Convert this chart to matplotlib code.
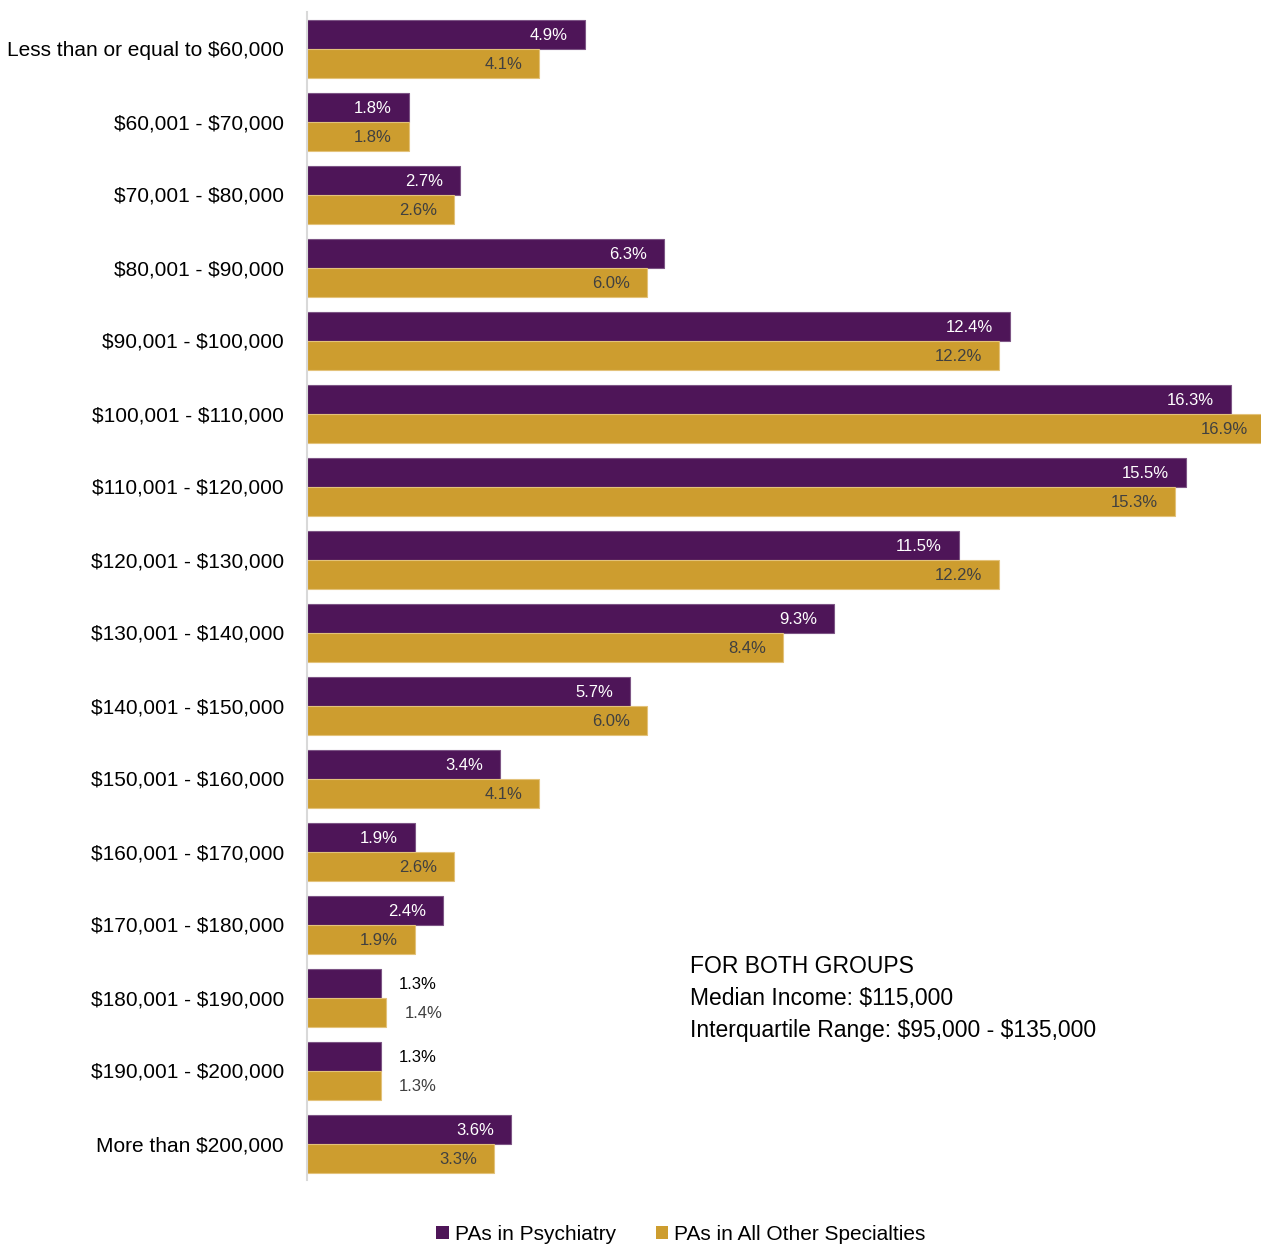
import matplotlib
matplotlib.use("Agg")
import matplotlib.pyplot as plt
import numpy as np
from matplotlib.patches import Patch

plt.rcParams["font.family"] = ["Liberation Sans", "DejaVu Sans"]

categories = [
    "Less than or equal to $60,000",
    "$60,001 - $70,000",
    "$70,001 - $80,000",
    "$80,001 - $90,000",
    "$90,001 - $100,000",
    "$100,001 - $110,000",
    "$110,001 - $120,000",
    "$120,001 - $130,000",
    "$130,001 - $140,000",
    "$140,001 - $150,000",
    "$150,001 - $160,000",
    "$160,001 - $170,000",
    "$170,001 - $180,000",
    "$180,001 - $190,000",
    "$190,001 - $200,000",
    "More than $200,000",
]
psychiatry = [4.9, 1.8, 2.7, 6.3, 12.4, 16.3, 15.5, 11.5, 9.3, 5.7, 3.4, 1.9, 2.4, 1.3, 1.3, 3.6]
other = [4.1, 1.8, 2.6, 6.0, 12.2, 16.9, 15.3, 12.2, 8.4, 6.0, 4.1, 2.6, 1.9, 1.4, 1.3, 3.3]
note_lines = [
    "FOR BOTH GROUPS",
    "Median Income: $115,000",
    "Interquartile Range: $95,000 - $135,000",
]

PURPLE = "#4E1558"
GOLD = "#CD9D2F"

W, H = 1261, 1246
fig = plt.figure(figsize=(W / 100, H / 100), dpi=100)
ax = fig.add_axes([307 / W, 1 - 1180 / H, (W - 307) / W, 1168 / H])

y = np.arange(len(categories))
h = 29 / 73
ax.barh(y - h / 2, psychiatry, height=h, color=PURPLE, edgecolor="#7d5585", linewidth=0.8)
ax.barh(y + h / 2, other, height=h, color=GOLD, edgecolor="#e3c27a", linewidth=0.8)

xmax = (W - 307) / 56.7
ax.set_xlim(0, xmax)
ax.set_ylim(len(categories) - 0.5, -0.5)

px = xmax / (W - 307)  # data units per pixel
for i, (p, o) in enumerate(zip(psychiatry, other)):
    if p >= 1.5:
        ax.text(p - 17 * px, i - h / 2, f"{p:.1f}%", ha="right", va="center_baseline",
                color="white", fontsize=12)
    else:
        ax.text(p + 18 * px, i - h / 2, f"{p:.1f}%", ha="left", va="center_baseline",
                color="black", fontsize=12)
    if o >= 1.5:
        ax.text(o - 17 * px, i + h / 2, f"{o:.1f}%", ha="right", va="center_baseline",
                color="#404040", fontsize=12)
    else:
        ax.text(o + 18 * px, i + h / 2, f"{o:.1f}%", ha="left", va="center_baseline",
                color="#404040", fontsize=12)

ax.set_yticks(y)
ax.set_yticklabels([c.replace("$", r"\$") for c in categories], fontsize=15)
ax.tick_params(axis="y", length=0, pad=16.5)
ax.set_xticks([])
for side in ["top", "right", "bottom"]:
    ax.spines[side].set_visible(False)
ax.spines["left"].set_color("#d9d9d9")
ax.spines["left"].set_linewidth(1.5)

for k, line in enumerate(note_lines):
    fig.text(690 / W, 1 - (964 + 32 * k) / H, line.replace("$", r"\$"), fontsize=16.5,
             va="center_baseline", ha="left")

handles = [Patch(facecolor=PURPLE, label="PAs in Psychiatry"),
           Patch(facecolor=GOLD, label="PAs in All Other Specialties")]
fig.legend(handles=handles, loc="center", bbox_to_anchor=(681 / W, 1 - 1234 / H), ncol=2,
           frameon=False, fontsize=15, handlelength=0.6, handleheight=0.6,
           handletextpad=0.3, columnspacing=1.9)

fig.savefig("out.png", dpi=100)
